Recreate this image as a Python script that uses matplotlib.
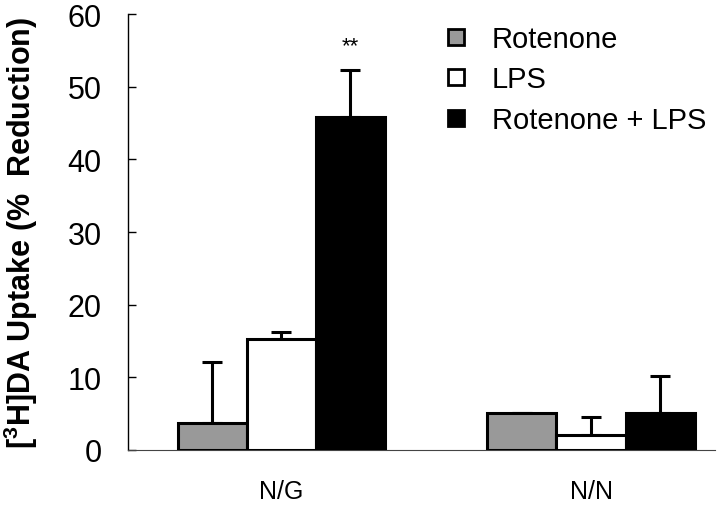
import numpy as np
import matplotlib.pyplot as plt
from matplotlib.lines import Line2D

plt.rcParams['font.family'] = ['Liberation Sans', 'DejaVu Sans']

groups = ['N/G', 'N/N']
series = ['Rotenone', 'LPS', 'Rotenone + LPS']
colors = ['#999999', 'white', 'black']
means = [[3.7, 5.1],
         [15.3, 2.1],
         [45.9, 5.1]]
errs = [[8.4, 0.0],
        [0.9, 2.4],
        [6.4, 5.1]]

fig = plt.figure(figsize=(7.2, 5.06), dpi=100)
ax = fig.add_axes([0.178, 0.109, 0.815, 0.861])

x = np.arange(len(groups))
w = 0.223
for i in range(len(series)):
    pos = x + (i - 1) * w
    ax.bar(pos, means[i], w, color=colors[i], edgecolor='black', linewidth=2.2, zorder=3)
    e = np.array(errs[i])
    ax.errorbar(pos, means[i], yerr=[np.zeros_like(e), e], fmt='none', ecolor='black',
                elinewidth=2.2, capsize=7.5, capthick=2.2, zorder=2)

ax.text(x[0] + w, means[2][0] + errs[2][0] + 3.4, '**', ha='center', va='center', fontsize=16)

ax.set_xlim(-0.494, 1.40)
ax.set_ylim(0, 60)
ax.set_yticks(range(0, 61, 10))
ax.set_xticks(x)
ax.set_xticklabels(groups)
ax.tick_params(axis='y', labelsize=22, direction='in', length=6, width=1, pad=19)
ax.tick_params(axis='x', labelsize=18, length=0, pad=21)
ax.spines['top'].set_visible(False)
ax.spines['right'].set_visible(False)
ax.spines['bottom'].set_color('#444444')
ax.spines['left'].set_linewidth(1)
ax.set_ylabel('[$\\mathregular{^3}$H]DA Uptake (%  Reduction)', fontsize=22,
              fontweight='bold', labelpad=20)

handles = [Line2D([], [], marker='s', ls='none', markersize=12, markerfacecolor=c,
                  markeredgecolor='black', markeredgewidth=2) for c in colors]
fig.legend(handles, series, loc='upper left', bbox_to_anchor=(0.58, 1.0),
           frameon=False, fontsize=21, handlelength=0.8, handletextpad=0.85,
           labelspacing=0.42)

fig.savefig('out.png', dpi=100)
